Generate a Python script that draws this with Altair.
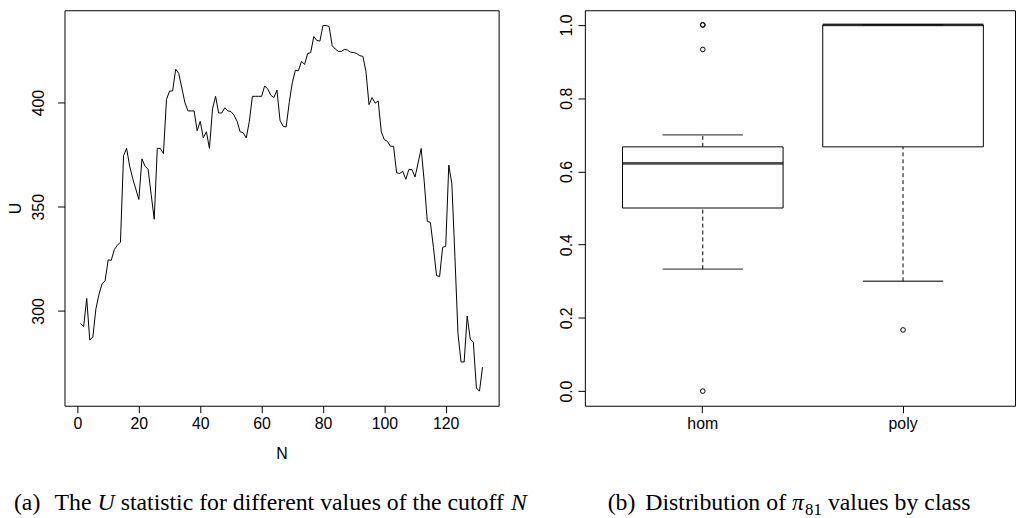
import altair as alt
import pandas as pd

# ---------------- data: left panel (U statistic vs cutoff N) ----------------
N_values = list(range(1, 133))
U_values = [
    294, 292.5, 306, 286, 287.5, 301, 308, 313, 314.5, 324.5,
    324.3, 329.5, 331.5, 333, 374.5, 378, 369.5, 363.5, 358.5, 353.5,
    373, 369.5, 368, 356, 344, 378, 378, 375.5, 401.5, 405.5,
    405.6, 416, 414, 407, 400, 396, 396, 396, 386.5, 391,
    383, 386, 378, 397, 403, 395, 395, 397.5, 396, 395.7,
    394, 391, 386, 385.5, 383, 391, 403, 403, 403, 403,
    408, 406.5, 403.5, 402.4, 406, 391.5, 388.6, 388.3, 400, 409.5,
    415.5, 415.3, 419.8, 418.3, 423.5, 424, 431.7, 429.8, 429.5, 437,
    437, 436.5, 427.3, 425.7, 424.6, 424.6, 425.5, 425.2, 424.2, 424,
    423.5, 422.5, 422.2, 415, 399, 402.4, 399.7, 400.8, 386, 382.2,
    381.4, 379, 379, 366.3, 366, 367, 363.2, 367.9, 367.8, 364.3,
    371, 378, 362, 343, 342.5, 330.5, 317, 316.5, 330.5, 331,
    370, 361, 326, 289, 275.5, 275.5, 297.5, 286.5, 285, 263,
    261.5, 273,
]
x_ticks = [0, 20, 40, 60, 80, 100, 120]
y_ticks = [300, 350, 400]

# ---------------- data: right panel (boxplot summary) ----------------
classes = ["hom", "poly"]
lower_whisker = [0.333, 0.300]
q1 = [0.500, 0.667]
median = [0.622, 1.000]
q3 = [0.667, 1.000]
upper_whisker = [0.700, 1.000]
outlier_class = ["hom", "hom", "hom", "hom", "poly"]
outlier_value = [1.000, 1.000, 0.933, 0.000, 0.167]
box_ticks = [0.0, 0.2, 0.4, 0.6, 0.8, 1.0]

# ---------------- layout constants ----------------
W1, W2, H = 438, 434, 399
LBL = 16          # tick label font size
CAP = 24          # caption font size
SUB = 17          # subscript font size
CAP_BASE = 504    # caption baseline below plot top
SANS = "Liberation Sans"
SERIF = "Liberation Serif"

# Times advance widths (per 1000 em) for caption layout
TW = {" ": 250, "(": 333, ")": 333, "a": 444, "b": 500, "c": 444, "d": 500,
      "e": 444, "f": 333, "h": 500, "i": 278, "l": 278, "n": 500, "o": 500,
      "r": 333, "s": 389, "t": 278, "u": 500, "v": 500, "y": 500, "T": 611,
      "D": 722, "U": 722, "N": 667, "8": 500, "1": 500, "\u03c0": 550}


def tw(s, size):
    return sum(TW.get(c, 500) for c in s) * size / 1000.0


one = pd.DataFrame({"k": [0]})


def caption_layers(parts, x0, base):
    """parts: list of (text, italic, size, dy, gap_after, fixed_x)."""
    layers = []
    x = x0
    for text, italic, size, dy, gap, xfix in parts:
        if xfix is not None:
            x = xfix
        layers.append(
            alt.Chart(one).mark_text(
                font=SERIF, fontSize=size, fontStyle="italic" if italic else "normal",
                align="left", baseline="alphabetic", color="black",
            ).encode(x=alt.value(x), y=alt.value(base + dy), text=alt.value(text))
        )
        x += tw(text, size) + gap
    return layers


SP = tw(" ", CAP)

# ---------------- left panel ----------------
df_u = pd.DataFrame({"N": N_values, "U": U_values})
axis_common = dict(
    grid=False, domain=False, ticks=True, tickSize=7, tickColor="black", tickWidth=1,
    labelFont=SANS, labelFontSize=LBL, labelColor="black",
    titleFont=SANS, titleFontSize=LBL, titleColor="black", titleFontWeight="normal",
)
line = alt.Chart(df_u).mark_line(color="black", strokeWidth=1).encode(
    x=alt.X("N:Q", scale=alt.Scale(domain=[-4.24, 137.24], nice=False, zero=False),
            axis=alt.Axis(values=x_ticks, title="N", labelPadding=3, titlePadding=14,
                          labelFlush=False, **axis_common)),
    y=alt.Y("U:Q", scale=alt.Scale(domain=[254.5, 444.3], nice=False, zero=False),
            axis=alt.Axis(values=y_ticks, title="U", labelAngle=270, labelAlign="center",
                          labelBaseline="bottom", labelPadding=11, titleAngle=270,
                          titlePadding=7, **axis_common)),
)
cap_a = caption_layers(
    [("(a)", False, CAP, 0, 0, -51),
     ("The", False, CAP, 0, SP, -10),
     ("U", True, CAP, 0, SP, None),
     ("statistic for different values of the cutoff", False, CAP, 0, SP, None),
     ("N", True, CAP, 0, 0, None)],
    -51, CAP_BASE,
)
left = alt.layer(line, *cap_a).properties(width=W1, height=H)

# ---------------- right panel ----------------
df_box = pd.DataFrame({"cls": classes, "lo": lower_whisker, "q1": q1, "med": median,
                       "q3": q3, "hi": upper_whisker})
df_out = pd.DataFrame({"cls": outlier_class, "v": outlier_value})

P_IN, P_OUT, ALIGN = 0.198, 0.173, 0.543
xs = alt.Scale(domain=classes, paddingInner=P_IN, paddingOuter=P_OUT, align=ALIGN)
ys = alt.Scale(domain=[-0.04, 1.04], nice=False, zero=False)
xax = alt.Axis(title=None, labelAngle=0, labelPadding=3, **axis_common)
yax = alt.Axis(values=box_ticks, format=".1f", title=None, labelAngle=270,
               labelAlign="center", labelBaseline="bottom", labelPadding=3, **axis_common)
step = W2 / (2 - P_IN + 2 * P_OUT)
bw = step * (1 - P_IN)

base = alt.Chart(df_box)
whisk_lo = base.mark_rule(color="black", strokeDash=[4, 3], strokeWidth=1).encode(
    x=alt.X("cls:N", scale=xs, axis=xax), y=alt.Y("lo:Q", scale=ys, axis=yax), y2="q1:Q")
whisk_hi = base.mark_rule(color="black", strokeDash=[4, 3], strokeWidth=1).encode(
    x=alt.X("cls:N", scale=xs), y=alt.Y("q3:Q", scale=ys), y2="hi:Q")
box = base.mark_bar(fill="white", stroke="black", strokeWidth=1).encode(
    x=alt.X("cls:N", scale=xs), y=alt.Y("q1:Q", scale=ys), y2="q3:Q")
med = base.mark_tick(color="black", thickness=2.8, size=bw).encode(
    x=alt.X("cls:N", scale=xs), y=alt.Y("med:Q", scale=ys))
cap_lo = base.mark_tick(color="black", thickness=1.3, size=bw / 2).encode(
    x=alt.X("cls:N", scale=xs), y=alt.Y("lo:Q", scale=ys))
cap_hi = base.mark_tick(color="black", thickness=1.3, size=bw / 2).encode(
    x=alt.X("cls:N", scale=xs), y=alt.Y("hi:Q", scale=ys))
outs = alt.Chart(df_out).mark_point(shape="circle", filled=False, color="black",
                                    size=22, strokeWidth=1, opacity=1).encode(
    x=alt.X("cls:N", scale=xs), y=alt.Y("v:Q", scale=ys))
cap_b = caption_layers(
    [("(b)", False, CAP, 0, 0, 23),
     ("Distribution", False, CAP, 0, SP, 61),
     ("of", False, CAP, 0, SP, None),
     ("\u03c0", True, CAP, 0, 0, None),
     ("81", False, SUB, 5, SP, None),
     ("values", False, CAP, 0, SP, None),
     ("by", False, CAP, 0, SP, None),
     ("class", False, CAP, 0, 0, None)],
    23, CAP_BASE,
)
right = alt.layer(whisk_lo, whisk_hi, box, med, cap_lo, cap_hi, outs, *cap_b).properties(
    width=W2, height=H)

chart = alt.hconcat(left, right, spacing=87, bounds="flush").properties(
    padding={"left": -1, "top": -1, "right": 0, "bottom": 0}
).configure_view(stroke="black", strokeWidth=1)

chart.save("out.html", embed_options={"renderer": "svg", "actions": False})
